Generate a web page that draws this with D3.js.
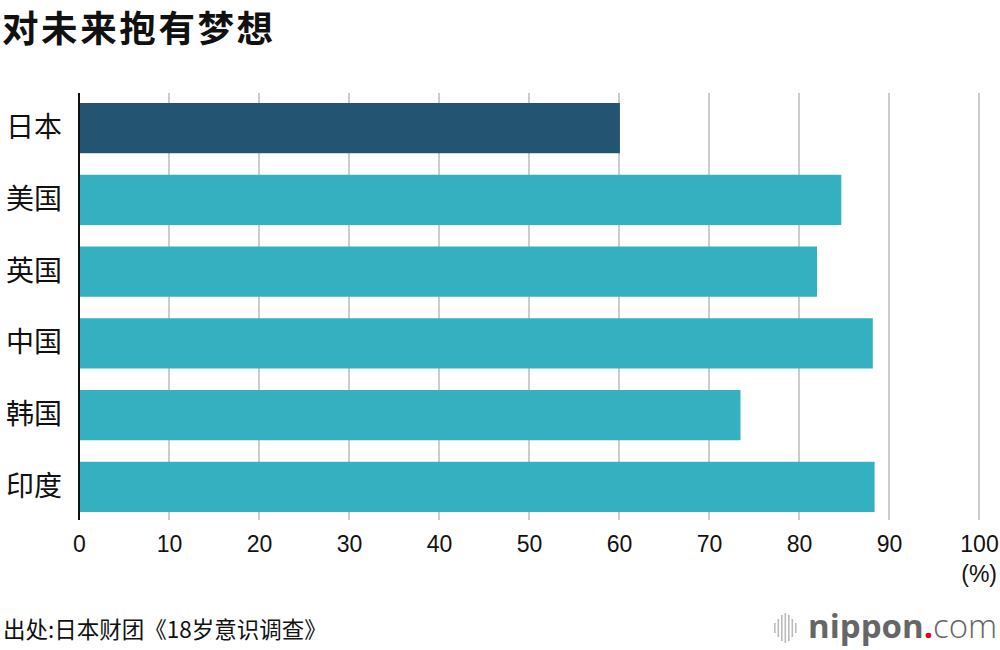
<!DOCTYPE html>
<html><head><meta charset="utf-8">
<script src="https://cdn.jsdelivr.net/npm/d3@7"></script>
<style>body{margin:0;background:#fff}svg{display:block}</style>
</head><body>
<script>
const categories = ["日本","美国","英国","中国","韩国","印度"];
const values = [60.1, 84.7, 82.0, 88.2, 73.5, 88.4];
const tickValues = [0,10,20,30,40,50,60,70,80,90,100];
const title = "对未来抱有梦想";
const source = "出处:日本财团《18岁意识调查》";
const unit = "(%)";

const W=1000,H=650;
const svg=d3.select("body").append("svg").attr("width",W).attr("height",H);
const font="'Noto Sans CJK SC','Noto Sans',sans-serif";
const numFont="'Liberation Sans',Arial,sans-serif";
const x=d3.scaleLinear().domain([0,100]).range([79,979]);
const y=d3.scaleBand().domain(categories).range([103,512]).paddingInner(0.3).paddingOuter(0);

svg.append("text").attr("x",2).attr("y",42).attr("font-family",font).attr("font-weight",700)
  .attr("font-size",36.5).attr("letter-spacing",2.6).attr("fill","#111").text(title);

// gridlines
svg.append("g").selectAll("line").data(tickValues.filter(d=>d>0)).join("line")
  .attr("x1",d=>x(d)).attr("x2",d=>x(d)).attr("y1",93).attr("y2",520)
  .attr("stroke","#cccccc").attr("stroke-width",2);

svg.append("g").selectAll("rect").data(categories).join("rect")
  .attr("x",x(0)).attr("y",d=>y(d)).attr("height",y.bandwidth())
  .attr("width",(d,i)=>x(values[i])-x(0))
  .attr("fill",(d,i)=>i===0?"#235573":"#34b0c0");

// axis line
svg.append("line").attr("x1",x(0)).attr("x2",x(0)).attr("y1",93).attr("y2",520)
  .attr("stroke","#111").attr("stroke-width",2);

// x axis labels
const xa=svg.append("g").attr("transform","translate(0,520)")
  .call(d3.axisBottom(x).tickValues(tickValues).tickSize(0).tickPadding(0));
xa.select(".domain").remove();
xa.selectAll("text").attr("font-family",numFont).attr("font-size",23).attr("fill","#111").attr("dy",0).attr("y",32);

svg.append("text").attr("x",997).attr("y",582).attr("text-anchor","end").attr("font-family",numFont)
  .attr("font-size",23).attr("fill","#111").text(unit);

// y labels
const ya=svg.append("g").attr("transform","translate(62,0)")
  .call(d3.axisLeft(y).tickSize(0).tickPadding(0));
ya.select(".domain").remove();
ya.selectAll("text").attr("font-family",font).attr("font-size",28).attr("fill","#111");

svg.append("text").attr("x",3).attr("y",638).attr("font-family",font).attr("font-size",22.5)
  .attr("fill","#111").text(source);

// logo
const lg=svg.append("g");
const barsH=[10,18,26,30,26,18,10];
barsH.forEach((h,i)=>{lg.append("rect").attr("x",774+i*3.5).attr("y",628-h/2).attr("width",1.6).attr("height",h).attr("fill","#bbb");});
const lt=lg.append("text").attr("x",808).attr("y",638).attr("font-family","'Open Sans',sans-serif").attr("font-size",33);
lt.append("tspan").attr("font-weight",700).attr("fill","#666").text("nippon");
lt.append("tspan").attr("font-weight",700).attr("fill","#e60012").text(".");
lt.append("tspan").attr("font-weight",300).attr("fill","#666").text("com");
</script>
</body></html>
